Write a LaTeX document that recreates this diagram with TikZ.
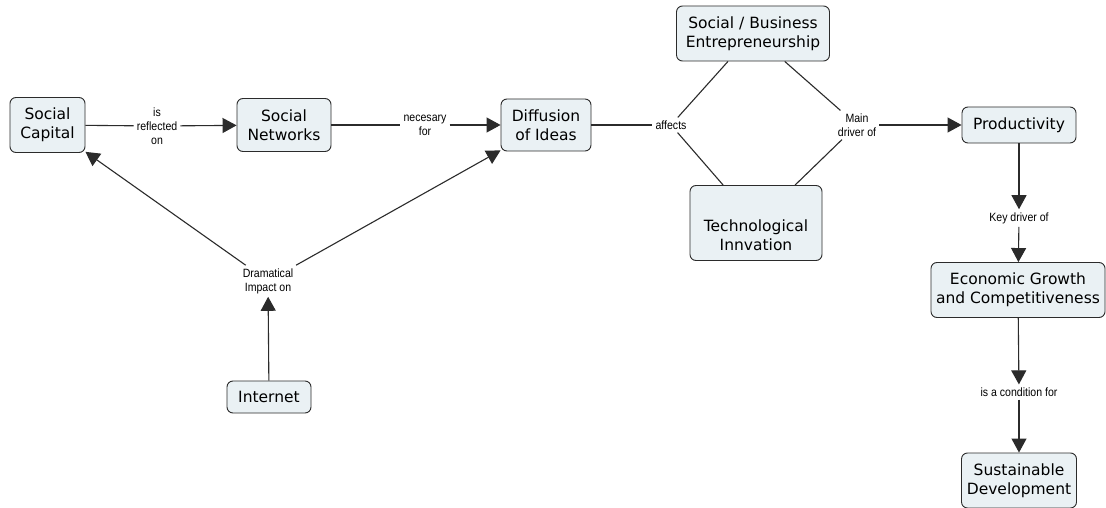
\documentclass[tikz,border=0pt]{standalone}
\usepackage{fontspec}
\usetikzlibrary{arrows.meta, positioning}
\newfontfamily\conceptfont{DejaVu Sans}
\newfontfamily\linkfont[FakeStretch=0.88]{Liberation Sans}
\definecolor{boxfill}{HTML}{EAF1F4}
\definecolor{edgegrey}{HTML}{2B2B2B}
\tikzset{
  concept/.style={rectangle, rounded corners=6pt, draw=edgegrey, line width=0.9pt, fill=boxfill,
    align=center, font=\conceptfont\fontsize{15.5}{19}\selectfont, inner sep=2pt},
  linktext/.style={align=center, font=\linkfont\fontsize{12}{14}\selectfont, inner sep=3pt},
  link/.style={draw=edgegrey, line width=1.1pt},
  linkarrow/.style={link, -{Triangle[length=14pt, width=15pt]}},
}

\begin{document}
\begin{tikzpicture}[x=1pt, y=-1pt]
\useasboundingbox[fill=white] (0,0) rectangle (1106,508);
\node[concept, minimum width=75, minimum height=55] (capital) at (47.5,125) {Social\\Capital};
\node[concept, minimum width=94, minimum height=53] (networks) at (284,125) {Social\\Networks};
\node[concept, minimum width=90, minimum height=52] (diffusion) at (546,125) {Diffusion\\of Ideas};
\node[concept, minimum width=153, minimum height=55] (entre) at (753,33.5) {Social / Business\\Entrepreneurship};
\node[concept, minimum width=132, minimum height=75] (techno) at (756,223) {\mbox{}\\[18pt]Technological\\Innvation};
\node[concept, minimum width=114, minimum height=36] (product) at (1019,125) {Productivity};
\node[concept, minimum width=174, minimum height=55] (growth) at (1018,290) {Economic Growth\\and Competitiveness};
\node[concept, minimum width=115, minimum height=55] (sustain) at (1019,480.5) {Sustainable\\Development};
\node[concept, minimum width=84, minimum height=32] (internet) at (269,397) {Internet};

\node[linktext] (reflected) at (157,126) {is\\reflected\\on};
\node[linktext] (necessary) at (425,125) {necesary\\for};
\node[linktext] (affects) at (671,125) {affects};
\node[linktext] (mainDriver) at (857,125) {Main\\driver of};
\node[linktext] (keyDriver) at (1019,218) {Key driver of};
\node[linktext] (condition) at (1019,392) {is a condition for};
\node[linktext] (impact) at (268,281) {Dramatical\\Impact on};

\draw[link] (capital) -- (reflected);
\draw[linkarrow] (reflected) -- (networks);
\draw[link] (networks) -- (necessary);
\draw[linkarrow] (necessary) -- (diffusion);
\draw[link] (diffusion) -- (affects);
\draw[link] (affects) -- (entre);
\draw[link] (affects) -- (techno);
\draw[link] (entre) -- (mainDriver);
\draw[link] (techno) -- (mainDriver);
\draw[linkarrow] (mainDriver) -- (product);
\draw[linkarrow] (product) -- (keyDriver);
\draw[linkarrow] (keyDriver) -- (growth);
\draw[linkarrow] (growth) -- (condition);
\draw[linkarrow] (condition) -- (sustain);
\draw[linkarrow] (internet) -- (impact);
\draw[linkarrow] (impact) -- (capital);
\draw[linkarrow] (impact) -- (diffusion);
\end{tikzpicture}
\end{document}
